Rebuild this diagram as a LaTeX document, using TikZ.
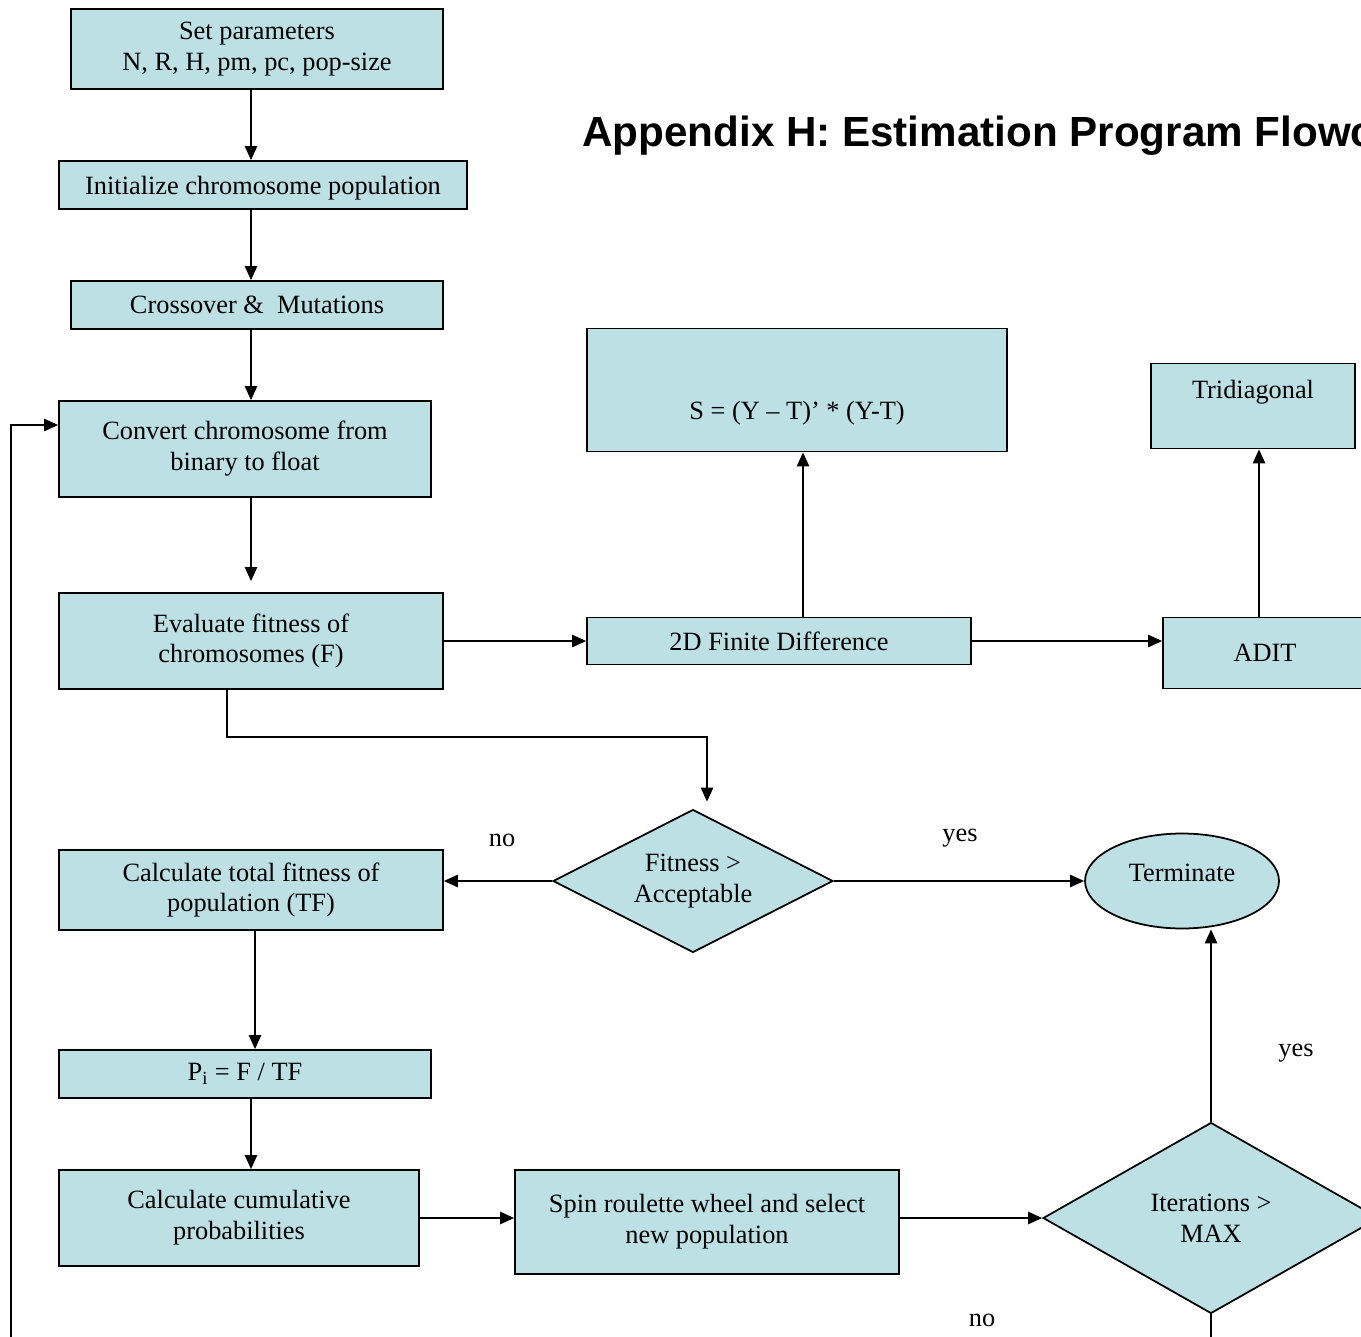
\documentclass[tikz,border=0pt]{standalone}
\usepackage{fontspec}
\setmainfont{Liberation Serif}
\newfontfamily\titlefont{Liberation Sans}
\usetikzlibrary{shapes.geometric,arrows.meta,calc}
\definecolor{boxblue}{RGB}{188,224,228}

\begin{document}
\begin{tikzpicture}[
  x=0.02cm,y=-0.02cm,
  box/.style={rectangle,draw=black,fill=boxblue,line width=1pt,align=center,
              inner sep=2pt,font=\fontsize{15}{17.6}\selectfont},
  decision/.style={diamond,draw=black,fill=boxblue,line width=1pt,align=center,
                   inner sep=0pt,font=\fontsize{15}{17.6}\selectfont},
  endblock/.style={ellipse,draw=black,fill=boxblue,line width=1pt,align=center,
                   minimum width=3.88cm,minimum height=1.9cm,font=\fontsize{15}{17.6}\selectfont},
  arrow/.style={-{Triangle[length=8pt,width=7pt]},line width=1pt},
  answer/.style={font=\fontsize{15}{17.6}\selectfont},
]
\useasboundingbox (0,0) rectangle (1361,1337);
\clip (0,0) rectangle (1361,1337);

\node[font={\titlefont\bfseries\fontsize{24}{28}\selectfont},anchor=base west,inner sep=0pt]
  (title) at (582,147) {Appendix H: Estimation Program Flowchart};

\node[box,minimum width=7.44cm,minimum height=1.6cm]  (setp)  at (257,49)  {Set parameters\\N, R, H, pm, pc, pop-size};
\node[box,minimum width=8.16cm,minimum height=0.96cm,text depth=0pt] (init) at (263,185) {Initialize chromosome population};
\node[box,minimum width=7.44cm,minimum height=0.96cm] (cross) at (257,305) {Crossover \&\ \ Mutations};
\node[box,minimum width=7.44cm,minimum height=1.92cm] (conv)  at (245,449) {Convert chromosome from\\binary to float};
\node[box,minimum width=7.68cm,minimum height=1.92cm] (eval)  at (251,641) {Evaluate fitness of\\chromosomes (F)};
\node[box,minimum width=8.4cm,minimum height=2.46cm,text height=1.2cm,text depth=0pt]
  (sfun) at (797,390) {S = (Y – T)’ * (Y-T)};
\node[box,minimum width=4.08cm,minimum height=1.7cm,text height=0.37cm,text depth=0.65cm]
  (tri) at (1253,406) {Tridiagonal};
\node[box,minimum width=7.68cm,minimum height=0.94cm] (fd)    at (779,641)  {2D Finite Difference};
\node[box,minimum width=4.08cm,minimum height=1.42cm] (adit)  at (1265,653) {ADIT};
\node[decision,aspect=1.96,minimum width=5.6cm,minimum height=2.86cm] (fit) at (693,881) {Fitness >\\Acceptable};
\node[endblock,text depth=0.32cm] (term) at (1182,881) {Terminate};
\node[box,minimum width=7.68cm,minimum height=1.6cm]  (tfit)  at (251,890)  {Calculate total fitness of\\population (TF)};
\node[box,minimum width=7.44cm,minimum height=0.96cm] (pi)    at (245,1074) {P\textsubscript{i} = F / TF};
\node[box,minimum width=7.2cm,minimum height=1.92cm]  (cum)   at (239,1218) {Calculate cumulative\\probabilities};
\node[box,minimum width=7.68cm,minimum height=2.08cm] (spin)  at (707,1222) {Spin roulette wheel and select\\new population};
\node[decision,aspect=1.76,minimum width=6.72cm,minimum height=3.82cm] (iter) at (1211,1218) {Iterations >\\MAX};

\node[answer] (nofit)   at (502,840)  {no};
\node[answer] (yesfit)  at (960,838)  {yes};
\node[answer] (yesiter) at (1296,1053) {yes};
\node[answer] (noiter)  at (982,1320) {no};

\coordinate (loopcorner) at (11,1400);

\draw[arrow] (setp.south -| eval) -- (init.north -| eval);
\draw[arrow] (init.south -| eval) -- (cross.north -| eval);
\draw[arrow] (cross.south -| eval) -- (conv.north -| eval);
\draw[arrow,shorten >=0.22cm] (conv.south -| eval) -- (eval.north);
\draw[arrow] (eval.east) -- (fd.west);
\draw[arrow] (fd.east) -- (fd.east -| adit.west);
\draw[arrow] ($(fd.north)+(24,0)$) coordinate (fdup) -- (fdup |- sfun.south);
\draw[arrow] ($(adit.north)+(-6,0)$) coordinate (aditup) -- (aditup |- tri.south);
\draw[arrow,shorten >=0.14cm] ($(eval.south)+(-24,0)$) |- ($(fit.north)+(14,-72)$) -- ($(fit.north)+(14,0)$);
\draw[arrow] (fit.west) -- (tfit.east |- fit.west);
\draw[arrow] (fit.east) -- (term.west);
\draw[arrow] ($(tfit.south)+(4,0)$) coordinate (tfdown) -- (tfdown |- pi.north);
\draw[arrow] (pi.south -| eval) -- (cum.north -| eval);
\draw[arrow] (cum.east) -- (spin.west |- cum.east);
\draw[arrow] (spin.east |- iter) -- (iter.west);
\draw[arrow] (iter.north) -- (iter.north |- term.south);
\draw[arrow] (iter.south) |- (loopcorner) |- ($(conv.west)+(0,-24)$);

\end{tikzpicture}
\end{document}
